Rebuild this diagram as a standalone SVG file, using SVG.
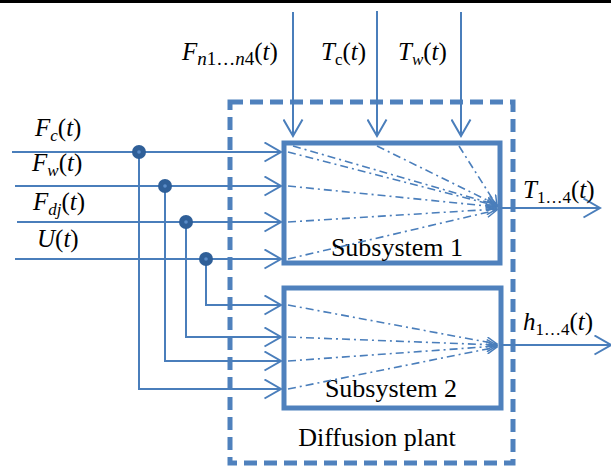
<svg xmlns="http://www.w3.org/2000/svg" width="611" height="466" viewBox="0 0 611 466">
<style>
.ln{fill:none;stroke:#4A7EBB;stroke-width:2}
.dd{fill:none;stroke:#4A7EBB;stroke-width:1.6;stroke-dasharray:8 4 2 4}
.box{fill:none;stroke:#4F81BD;stroke-width:5}
.dash{fill:none;stroke:#4F81BD;stroke-width:5;stroke-dasharray:13 7}
text{font-family:'Liberation Serif',serif;fill:#000}
.t{font-size:25px}
.bt{font-size:26px}
.i{font-style:italic}
.s{font-size:17px}
</style>
<defs>
<marker id="ab" viewBox="0 0 19 21" refX="17.5" refY="10.5" markerWidth="19" markerHeight="21" markerUnits="userSpaceOnUse" orient="auto">
<path d="M1,1 L17.5,10.5 L1,20" fill="none" stroke="#4A7EBB" stroke-width="2"/>
</marker>
<marker id="as" viewBox="0 0 12 11" refX="11" refY="5.5" markerWidth="12" markerHeight="11" markerUnits="userSpaceOnUse" orient="auto">
<path d="M0.5,0.5 L11,5.5 L0.5,10.5" fill="none" stroke="#4A7EBB" stroke-width="1.5"/>
</marker>
</defs>
<rect x="0" y="0" width="611" height="3" fill="#000"/>

<g id="diffusion-plant">
<rect class="dash" x="230" y="102" width="283" height="361"/>
<text class="bt" x="377" y="446" text-anchor="middle" font-family="Liberation Serif">Diffusion plant</text>
</g>

<g id="subsystem1">
<rect class="box" x="284" y="143" width="216" height="120"/>
<text class="bt" x="397" y="256" text-anchor="middle" font-family="Liberation Serif">Subsystem 1</text>
</g>

<g id="subsystem2">
<rect class="box" x="284" y="288" width="217" height="120"/>
<text class="bt" x="391" y="397" text-anchor="middle" font-family="Liberation Serif">Subsystem 2</text>
</g>

<g id="connectors">
<line class="ln" x1="293" y1="12" x2="293" y2="136" marker-end="url(#ab)"/>
<line class="ln" x1="377" y1="11" x2="377" y2="136" marker-end="url(#ab)"/>
<line class="ln" x1="461" y1="12" x2="461" y2="136" marker-end="url(#ab)"/>
<line class="ln" x1="12" y1="152" x2="281" y2="152" marker-end="url(#ab)"/>
<line class="ln" x1="15" y1="186" x2="281" y2="186" marker-end="url(#ab)"/>
<line class="ln" x1="17" y1="222" x2="281" y2="222" marker-end="url(#ab)"/>
<line class="ln" x1="15" y1="259" x2="281" y2="259" marker-end="url(#ab)"/>
<polyline class="ln" points="139,152 139,389 281,389" marker-end="url(#ab)"/>
<polyline class="ln" points="165,186 165,361 281,361" marker-end="url(#ab)"/>
<polyline class="ln" points="186,222 186,337 281,337" marker-end="url(#ab)"/>
<polyline class="ln" points="206,259 206,305 281,305" marker-end="url(#ab)"/>
<g fill="#2F5F98">
<circle cx="139" cy="152" r="7"/>
<circle cx="165" cy="186" r="7"/>
<circle cx="186" cy="222" r="7"/>
<circle cx="206" cy="259" r="7"/>
</g>
<g fill="#5B8CC8">
<circle cx="139" cy="152" r="1.8"/>
<circle cx="165" cy="186" r="1.8"/>
<circle cx="186" cy="222" r="1.8"/>
<circle cx="206" cy="259" r="1.8"/>
</g>
<line class="dd" x1="288" y1="152" x2="497" y2="206" marker-end="url(#as)"/>
<line class="dd" x1="288" y1="186" x2="497" y2="207" marker-end="url(#as)"/>
<line class="dd" x1="288" y1="222" x2="497" y2="209" marker-end="url(#as)"/>
<line class="dd" x1="288" y1="259" x2="497" y2="210" marker-end="url(#as)"/>
<line class="dd" x1="293" y1="146" x2="497" y2="205" marker-end="url(#as)"/>
<line class="dd" x1="377" y1="146" x2="497" y2="205" marker-end="url(#as)"/>
<line class="dd" x1="459" y1="146" x2="497" y2="206" marker-end="url(#as)"/>
<line class="dd" x1="288" y1="305" x2="497" y2="344" marker-end="url(#as)"/>
<line class="dd" x1="288" y1="337" x2="497" y2="345" marker-end="url(#as)"/>
<line class="dd" x1="288" y1="361" x2="497" y2="346" marker-end="url(#as)"/>
<line class="dd" x1="288" y1="389" x2="497" y2="347" marker-end="url(#as)"/>
<line class="ln" x1="500" y1="208" x2="600" y2="208" marker-end="url(#ab)"/>
<line class="ln" x1="501" y1="345" x2="611" y2="345" marker-end="url(#ab)"/>
</g>

<g id="labels" font-family="Liberation Serif">
<text class="t" x="182" y="60"><tspan class="i">F</tspan><tspan style="font-size:19px" dy="5"><tspan class="i">n</tspan>1…<tspan class="i">n</tspan>4</tspan><tspan dy="-5">(</tspan><tspan class="i">t</tspan>)</text>
<text class="t" x="321" y="60"><tspan class="i">T</tspan><tspan class="s" dy="5">c</tspan><tspan dy="-5">(</tspan><tspan class="i">t</tspan>)</text>
<text class="t" x="398" y="60"><tspan class="i">T</tspan><tspan class="s i" dy="5">w</tspan><tspan dy="-5">(</tspan><tspan class="i">t</tspan>)</text>
<text class="t" x="35" y="136"><tspan class="i">F</tspan><tspan class="s i" dy="5">c</tspan><tspan dy="-5">(</tspan><tspan class="i">t</tspan>)</text>
<text class="t" x="32" y="171"><tspan class="i">F</tspan><tspan class="s i" dy="5">w</tspan><tspan dy="-5">(</tspan><tspan class="i">t</tspan>)</text>
<text class="t" x="33" y="210"><tspan class="i">F</tspan><tspan class="s i" dy="5">dj</tspan><tspan dy="-5">(</tspan><tspan class="i">t</tspan>)</text>
<text class="t" x="37" y="247"><tspan class="i">U</tspan>(<tspan class="i">t</tspan>)</text>
<text class="t" x="523" y="198"><tspan class="i">T</tspan><tspan class="s" dy="5">1…4</tspan><tspan dy="-5">(</tspan><tspan class="i">t</tspan>)</text>
<text class="t" x="523" y="330"><tspan class="i">h</tspan><tspan class="s" dy="5">1…4</tspan><tspan dy="-5">(</tspan><tspan class="i">t</tspan>)</text>
</g>
</svg>
